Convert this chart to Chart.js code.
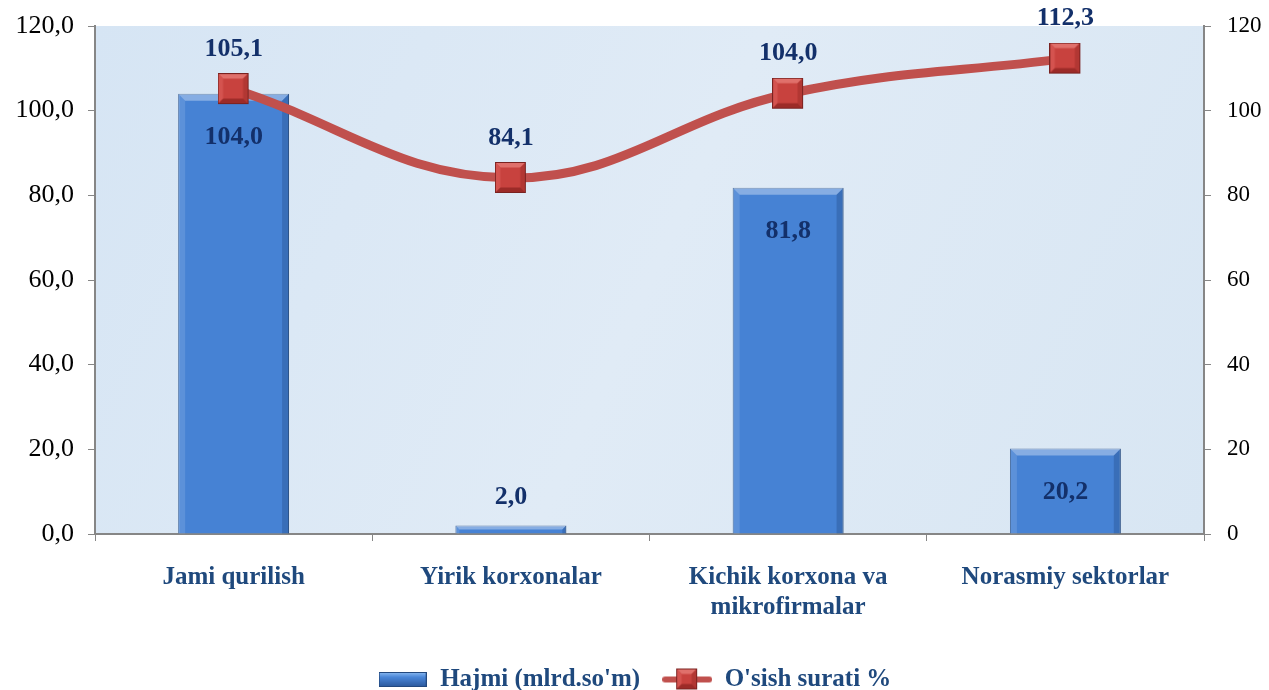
<!DOCTYPE html>
<html>
<head>
<meta charset="utf-8">
<script src="https://cdn.jsdelivr.net/npm/chart.js@4.4.1/dist/chart.umd.min.js"></script>
<style>
html,body{margin:0;padding:0;background:#fff;}
#wrap{width:1269px;height:690px;}
</style>
</head>
<body>
<div id="wrap"><canvas id="c" width="1269" height="690"></canvas></div>
<script>
const categories = [["Jami qurilish"], ["Yirik korxonalar"], ["Kichik korxona va", "mikrofirmalar"], ["Norasmiy sektorlar"]];
const volumeValues = [104.0, 2.0, 81.8, 20.2];
const growthValues = [105.1, 84.1, 104.0, 112.3];
const leftTicks = [0, 20, 40, 60, 80, 100, 120];
const seriesNames = ["Hajmi (mlrd.so'm)", "O'sish surati %"];

const SERIF = "'Liberation Serif', 'Times New Roman', serif";
const LABEL_COLOR = '#13306a';
const CAT_COLOR = '#1f497d';

function makeMarker(size){
  const c = document.createElement('canvas');
  c.width = size + 2; c.height = size + 2;
  const g = c.getContext('2d');
  const s = size, o = 0.5, b = 5;
  g.fillStyle = '#c8423e'; g.fillRect(o, o, s, s);
  g.fillStyle = '#e0706b';
  g.beginPath(); g.moveTo(o,o); g.lineTo(o+s,o); g.lineTo(o+s-b,o+b); g.lineTo(o+b,o+b); g.closePath(); g.fill();
  g.fillStyle = '#d4534f';
  g.beginPath(); g.moveTo(o,o); g.lineTo(o+b,o+b); g.lineTo(o+b,o+s-b); g.lineTo(o,o+s); g.closePath(); g.fill();
  g.fillStyle = '#b23733';
  g.beginPath(); g.moveTo(o+s,o); g.lineTo(o+s,o+s); g.lineTo(o+s-b,o+s-b); g.lineTo(o+s-b,o+b); g.closePath(); g.fill();
  g.fillStyle = '#9c2b28';
  g.beginPath(); g.moveTo(o,o+s); g.lineTo(o+b,o+s-b); g.lineTo(o+s-b,o+s-b); g.lineTo(o+s,o+s); g.closePath(); g.fill();
  g.strokeStyle = '#7a2220'; g.lineWidth = 1; g.strokeRect(o, o, s, s);
  return c;
}
const marker = makeMarker(30);

function makeLegendBar(){
  const c = document.createElement('canvas');
  c.width = 48; c.height = 15;
  const g = c.getContext('2d');
  const gr = g.createLinearGradient(0,0,0,15);
  gr.addColorStop(0,'#8dbcf2'); gr.addColorStop(0.35,'#4a86d8'); gr.addColorStop(1,'#2a579a');
  g.fillStyle = gr; g.fillRect(0.5,0.5,47,14);
  g.strokeStyle = '#23497f'; g.lineWidth = 1; g.strokeRect(0.5,0.5,47,14);
  return c;
}
function makeLegendLine(){
  const c = document.createElement('canvas');
  c.width = 50; c.height = 24;
  const g = c.getContext('2d');
  g.strokeStyle = '#c0504d'; g.lineWidth = 6; g.lineCap = 'round';
  g.beginPath(); g.moveTo(3,12); g.lineTo(47,12); g.stroke();
  const m = makeMarker(20);
  g.drawImage(m, 25 - 11, 1);
  return c;
}
const legendBar = makeLegendBar();
const legendLine = makeLegendLine();

const areaBg = {
  id: 'areaBg',
  beforeDraw(chart){
    const {ctx, chartArea:a} = chart;
    ctx.save();
    const gr = ctx.createLinearGradient(a.left, a.top, a.right, a.bottom);
    gr.addColorStop(0, '#d6e5f4');
    gr.addColorStop(0.5, '#e0ebf6');
    gr.addColorStop(1, '#d8e6f3');
    ctx.fillStyle = gr;
    ctx.fillRect(a.left, a.top, a.right - a.left, a.bottom - a.top);
    ctx.restore();
  }
};

const barBevel = {
  id: 'barBevel',
  afterDatasetDraw(chart, args){
    if (args.index !== 0) return;
    const ctx = chart.ctx;
    const meta = chart.getDatasetMeta(0);
    ctx.save();
    meta.data.forEach(bar => {
      const l = bar.x - bar.width/2, r = bar.x + bar.width/2, t = bar.y, btm = bar.base;
      const b = Math.min(7, (btm - t)/2);
      ctx.fillStyle = 'rgba(255,255,255,0.35)';
      ctx.beginPath(); ctx.moveTo(l,t); ctx.lineTo(r,t); ctx.lineTo(r-b,t+b); ctx.lineTo(l+b,t+b); ctx.closePath(); ctx.fill();
      ctx.fillStyle = 'rgba(255,255,255,0.12)';
      ctx.beginPath(); ctx.moveTo(l,t); ctx.lineTo(l+b,t+b); ctx.lineTo(l+b,btm); ctx.lineTo(l,btm); ctx.closePath(); ctx.fill();
      ctx.fillStyle = 'rgba(0,20,60,0.18)';
      ctx.beginPath(); ctx.moveTo(r,t); ctx.lineTo(r,btm); ctx.lineTo(r-b,btm); ctx.lineTo(r-b,t+b); ctx.closePath(); ctx.fill();
    });
    ctx.restore();
  }
};

const valueLabels = {
  id: 'valueLabels',
  afterDatasetsDraw(chart){
    const ctx = chart.ctx;
    ctx.save();
    ctx.font = 'bold 26px ' + SERIF;
    ctx.fillStyle = LABEL_COLOR;
    ctx.textAlign = 'center';
    ctx.textBaseline = 'middle';
    const fmt = v => v.toFixed(1).replace('.', ',');
    const bars = chart.getDatasetMeta(0).data;
    bars.forEach((bar, i) => {
      const h = bar.base - bar.y;
      const y = h > 60 ? bar.y + 44 : bar.y - 28;
      ctx.fillText(fmt(volumeValues[i]), bar.x, y);
    });
    const pts = chart.getDatasetMeta(1).data;
    pts.forEach((p, i) => {
      ctx.fillText(fmt(growthValues[i]), p.x, p.y - 40);
    });
    ctx.restore();
  }
};

const legendShift = {
  id: 'legendShift',
  afterLayout(chart){
    const lg = chart.legend;
    if (!lg) return;
    const want = 682 - 22 - 15;
    const d = want - lg.top;
    lg.top += d; lg.bottom += d;
  }
};

function fixV(w){
  return function(scale){ scale.width = w; scale.paddingTop = 0; scale.paddingBottom = 0; };
}

new Chart(document.getElementById('c'), {
  data: {
    labels: categories,
    datasets: [
      {
        type: 'bar',
        label: seriesNames[0],
        data: volumeValues,
        yAxisID: 'y',
        order: 1,
        backgroundColor: '#4682d4',
        borderColor: '#2b5590',
        borderWidth: 1,
        barPercentage: 0.4,
        categoryPercentage: 1.0
      },
      {
        type: 'line',
        label: seriesNames[1],
        data: growthValues,
        yAxisID: 'y1',
        order: 0,
        borderColor: '#c0504d',
        borderWidth: 9,
        tension: 0.4,
        pointStyle: marker,
        pointRadius: 15,
        pointHoverRadius: 15,
        backgroundColor: '#c0504d'
      }
    ]
  },
  options: {
    responsive: false,
    animation: false,
    events: [],
    layout: { padding: { top: 26, left: 0, right: 0, bottom: 0 } },
    plugins: {
      tooltip: { enabled: false },
      legend: {
        position: 'bottom',
        labels: {
          usePointStyle: true,
          pointStyleWidth: 50,
          padding: 22,
          color: CAT_COLOR,
          font: { family: SERIF, size: 25, weight: 'bold' },
          generateLabels(chart){
            return chart.data.datasets.map((ds, i) => ({
              text: ds.label,
              pointStyle: i === 0 ? legendBar : legendLine,
              fillStyle: 'transparent',
              strokeStyle: 'transparent',
              lineWidth: 0,
              fontColor: CAT_COLOR,
              datasetIndex: i,
              hidden: false
            }));
          }
        }
      }
    },
    scales: {
      x: {
        offset: true,
        grid: { offset: true, drawOnChartArea: false, tickLength: 7, color: '#868686' },
        border: { color: '#868686', width: 2 },
        ticks: { color: CAT_COLOR, font: { family: SERIF, size: 25, weight: 'bold' }, padding: 22, maxRotation: 0 },
        afterFit(scale){ scale.height = 99; scale.paddingLeft = 0; scale.paddingRight = 0; }
      },
      y: {
        position: 'left',
        min: 0, max: 120,
        afterBuildTicks(scale){ scale.ticks = leftTicks.map(v => ({ value: v })); },
        grid: { drawOnChartArea: false, tickLength: 7, color: '#868686' },
        border: { color: '#868686', width: 2 },
        ticks: { color: '#000', font: { family: SERIF, size: 26 }, padding: 14,
          callback: v => v.toFixed(1).replace('.', ',') },
        afterFit: fixV(95)
      },
      y1: {
        position: 'right',
        min: 0, max: 120,
        afterBuildTicks(scale){ scale.ticks = leftTicks.map(v => ({ value: v })); },
        grid: { drawOnChartArea: false, tickLength: 7, color: '#868686' },
        border: { color: '#868686', width: 2 },
        ticks: { color: '#000', font: { family: SERIF, size: 23 }, padding: 16,
          callback: v => String(v) },
        afterFit: fixV(65)
      }
    }
  },
  plugins: [areaBg, barBevel, valueLabels, legendShift]
});
</script>
</body>
</html>
